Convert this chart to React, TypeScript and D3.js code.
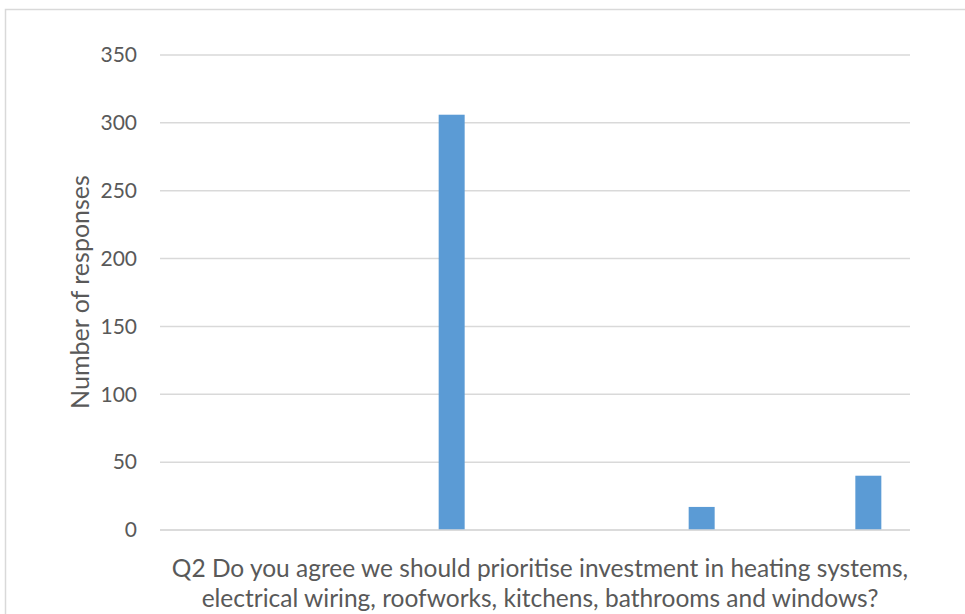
import React from "react";
import * as d3 from "d3";

const series = ["S1", "S2", "S3", "S4", "S5", "S6", "S7", "S8", "S9"];
const values = [0, 0, 0, 306, 0, 0, 17, 0, 40];
const yTicks = [0, 50, 100, 150, 200, 250, 300, 350];
const categoryLines = [
  "Q2 Do you agree we should prioritise investment in heating systems,",
  "electrical wiring, roofworks, kitchens, bathrooms and windows?",
];
const yTitle = "Number of responses";

const W = 965;
const H = 614;
const left = 160;
const right = 910;
const top = 55;
const bottom = 530;
const FONT = "Lato, 'Open Sans', sans-serif";

export default function App() {
  const y = d3.scaleLinear().domain([0, 350]).range([bottom, top]);
  const x = d3.scaleBand<string>().domain(series).range([left, right]);
  const barW = 26;
  return (
    <svg
      width={W}
      height={H}
      style={{ position: "fixed", left: 0, top: 0, background: "#fff" }}
    >
      <rect x={5.5} y={9.5} width={W + 10} height={H + 10} fill="#fff" stroke="#D9D9D9" strokeWidth={1.5} />
      {yTicks.map((t) => (
        <g key={t}>
          <line x1={left} x2={right} y1={y(t)} y2={y(t)} stroke="#D9D9D9" strokeWidth={1.5} />
          <text x={137} y={y(t)} dy="0.35em" textAnchor="end" fontFamily={FONT} fontSize={21} fill="#595959">
            {t}
          </text>
        </g>
      ))}
      {series.map((s, i) =>
        values[i] > 0 ? (
          <rect
            key={s}
            x={(x(s) as number) + x.bandwidth() / 2 - barW / 2}
            y={y(values[i])}
            width={barW}
            height={y(0) - y(values[i])}
            fill="#5B9BD5"
          />
        ) : null
      )}
      <line x1={left} x2={right} y1={y(0)} y2={y(0)} stroke="#D9D9D9" strokeWidth={1.5} />
      <text
        transform={`translate(80,292) rotate(-90)`}
        textAnchor="middle"
        dy="0.35em"
        fontFamily={FONT}
        fontSize={25}
        fill="#595959"
      >
        {yTitle}
      </text>
      {categoryLines.map((l, i) => (
        <text key={i} x={540} y={577 + i * 29.5} textAnchor="middle" fontFamily={FONT} fontSize={24.5} fill="#595959">
          {l}
        </text>
      ))}
    </svg>
  );
}
